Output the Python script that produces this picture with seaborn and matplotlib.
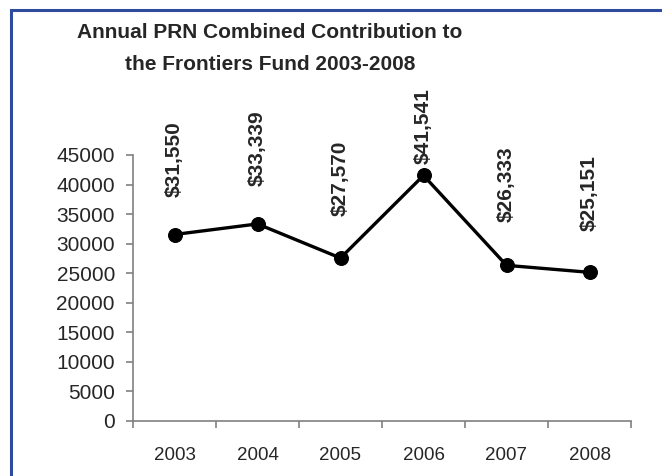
import matplotlib
matplotlib.use("Agg")
import matplotlib.pyplot as plt
from matplotlib.patches import Rectangle
import seaborn as sns
import pandas as pd

years = ["2003", "2004", "2005", "2006", "2007", "2008"]
amounts = [31550, 33339, 27570, 41541, 26333, 25151]
labels = ["$31,550", "$33,339", "$27,570", "$41,541", "$26,333", "$25,151"]
label_offsets = [27, 27, 30, 8, 31, 30]   # points above the marker

sns.set_style("white")
plt.rcParams["font.family"] = ["Liberation Sans", "DejaVu Sans"]

df = pd.DataFrame({"x": range(len(years)), "amount": amounts})

fig = plt.figure(figsize=(6.62, 4.76), dpi=100)
ax = fig.add_axes([133/662, 1-421/476, (631-133)/662, (421-155)/476])

sns.lineplot(data=df, x="x", y="amount", ax=ax, color="black", lw=2.4,
             marker="o", markersize=10, markeredgecolor="black")

for i, (v, s) in enumerate(zip(amounts, labels)):
    ax.annotate(s, (i, v), xytext=(0, label_offsets[i]), textcoords="offset points",
                rotation=90, ha="center", va="bottom", fontsize=15,
                fontweight="bold", annotation_clip=False)

ax.set_ylim(0, 45000)
ax.set_yticks(range(0, 45001, 5000))
ax.set_xlim(-0.5, len(years) - 0.5)
ax.set_xticks([i - 0.5 for i in range(len(years) + 1)])
ax.set_xticklabels([])
ax.set_xticks(range(len(years)), minor=True)
ax.set_xticklabels(years, minor=True)
ax.set_xlabel("")
ax.set_ylabel("")

for side in ["top", "right"]:
    ax.spines[side].set_visible(False)
for side in ["left", "bottom"]:
    ax.spines[side].set_color("#808080")
    ax.spines[side].set_linewidth(1.2)

ax.tick_params(axis="both", which="major", length=5, width=1.2, color="#808080",
               direction="out", pad=8)
ax.tick_params(axis="y", labelsize=15, left=True)
ax.tick_params(axis="x", which="minor", length=0, labelsize=13.5, pad=19)
ax.tick_params(axis="x", which="major", bottom=True)

fig.text(270/662, 1-33/476, "Annual PRN Combined Contribution to", ha="center",
         va="center", fontsize=15, fontweight="bold")
fig.text(270/662, 1-65/476, "the Frontiers Fund 2003-2008", ha="center",
         va="center", fontsize=15, fontweight="bold")

fig.patches.append(Rectangle((11/662, -0.1), 1.2, 1-10/476+0.1, transform=fig.transFigure,
                             fill=False, edgecolor="#2F4C9C", linewidth=2.2))

fig.savefig("out.png", dpi=100)
